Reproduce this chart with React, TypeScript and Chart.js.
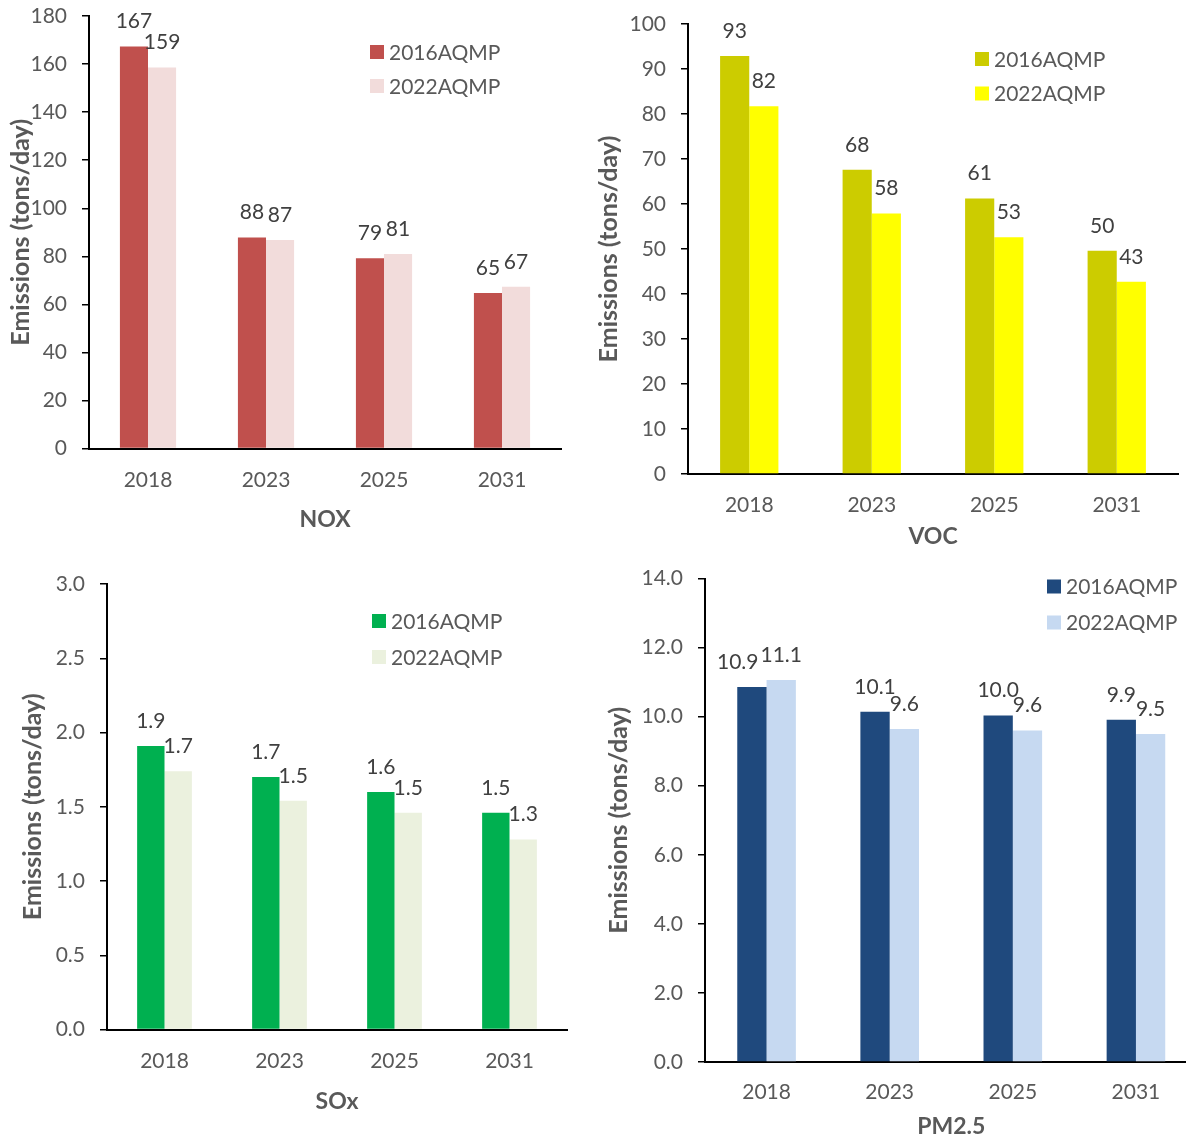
import React, { useEffect, useRef } from "react";
import { Chart, registerables } from "chart.js";

Chart.register(...registerables);

const FONT = "Lato, 'Noto Sans', sans-serif";

const categories = ["2018", "2023", "2025", "2031"];
const seriesNames = ["2016AQMP", "2022AQMP"];

const nox2016 = [167.3, 87.8, 79.2, 64.7];
const nox2022 = [158.6, 86.8, 81.0, 67.3];
const voc2016 = [92.9, 67.6, 61.2, 49.6];
const voc2022 = [81.7, 57.9, 52.6, 42.7];
const sox2016 = [1.91, 1.7, 1.6, 1.46];
const sox2022 = [1.74, 1.54, 1.46, 1.28];
const pm2016 = [10.86, 10.14, 10.03, 9.91];
const pm2022 = [11.06, 9.64, 9.6, 9.5];

const noxAxis = { max: 180, step: 20, decimals: 0 };
const vocAxis = { max: 100, step: 10, decimals: 0 };
const soxAxis = { max: 3, step: 0.5, decimals: 1 };
const pmAxis = { max: 14, step: 2, decimals: 1 };

const yTitle = "Emissions (tons/day)";

type Panel = {
  title: string;
  a: number[];
  b: number[];
  colors: [string, string];
  axis: { max: number; step: number; decimals: number };
  labelDecimals: number;
  box: { left: number; top: number; width: number; height: number };
  padTop: number;
  padRight: number;
  yW: number;
  xH: number;
  xTickPad: number;
  yTitlePad: number;
  legend: { dx: number; dy: number; gap: number };
};

const panels: Panel[] = [
  {
    title: "NOX", a: nox2016, b: nox2022, colors: ["#C0504D", "#F2DCDB"], axis: noxAxis, labelDecimals: 0,
    box: { left: 0, top: 0, width: 575, height: 533 }, padTop: 16, padRight: 14, yW: 89, xH: 84.4, xTickPad: 18.8,
    yTitlePad: 6.0, legend: { dx: 281, dy: 36, gap: 34 },
  },
  {
    title: "VOC", a: voc2016, b: voc2022, colors: ["#CCCC00", "#FFFF00"], axis: vocAxis, labelDecimals: 0,
    box: { left: 590, top: 0, width: 596, height: 550 }, padTop: 24, padRight: 8, yW: 98, xH: 76, xTickPad: 18.8,
    yTitlePad: 4.0, legend: { dx: 287, dy: 35, gap: 34.5 },
  },
  {
    title: "SOx", a: sox2016, b: sox2022, colors: ["#00B050", "#EBF1DE"], axis: soxAxis, labelDecimals: 1,
    box: { left: 0, top: 560, width: 580, height: 555 }, padTop: 24, padRight: 13, yW: 107, xH: 85.4, xTickPad: 18.8,
    yTitlePad: 18.0, legend: { dx: 265, dy: 37, gap: 36 },
  },
  {
    title: "PM2.5", a: pm2016, b: pm2022, colors: ["#1F497D", "#C6D9F1"], axis: pmAxis, labelDecimals: 1,
    box: { left: 590, top: 560, width: 620, height: 580 }, padTop: 18.5, padRight: 12.5, yW: 115, xH: 78, xTickPad: 18,
    yTitlePad: 13.5, legend: { dx: 342, dy: 8, gap: 36 },
  },
];

const valueLabelPlugin = {
  id: "valueLabels",
  afterDatasetsDraw(chart: any, _args: any, opts: any) {
    const ctx = chart.ctx;
    const size = opts.size || 21;
    ctx.save();
    ctx.font = `${size}px ${FONT}`;
    ctx.fillStyle = opts.color || "#404040";
    ctx.textAlign = "center";
    ctx.textBaseline = "middle";
    const n = chart.data.labels.length;
    for (let i = 0; i < n; i++) {
      const items = chart.data.datasets.map((ds: any, di: number) => {
        const el = chart.getDatasetMeta(di).data[i];
        const text = Number(ds.data[i]).toFixed(opts.decimals || 0);
        const w = ctx.measureText(text).width;
        return { x: el.x, y: el.y - (opts.offset || 25), w, text };
      });
      for (let k = items.length - 2; k >= 0; k--) {
        const p = items[k];
        const q = items[k + 1];
        if (Math.abs(p.y - q.y) < 10) {
          const overlap = p.x + p.w / 2 - (q.x - q.w / 2) + 2;
          if (overlap > 0) p.x -= overlap;
        }
      }
      items.forEach((it: any) => ctx.fillText(it.text, it.x, it.y));
    }
    ctx.restore();
  },
};

const boxLegendPlugin = {
  id: "boxLegend",
  afterDraw(chart: any, _args: any, opts: any) {
    const { ctx, chartArea } = chart;
    ctx.save();
    ctx.font = `21px ${FONT}`;
    ctx.textBaseline = "middle";
    ctx.textAlign = "left";
    chart.data.datasets.forEach((ds: any, i: number) => {
      const x = chartArea.left + opts.dx;
      const y = chartArea.top + opts.dy + i * opts.gap;
      ctx.fillStyle = ds.backgroundColor;
      ctx.fillRect(x, y - 7, 14, 14);
      ctx.fillStyle = "#595959";
      ctx.fillText(ds.label, x + 19, y + 1);
    });
    ctx.restore();
  },
};

function makeChart(canvas: HTMLCanvasElement, p: Panel) {
  return new Chart(canvas, {
    type: "bar",
    data: {
      labels: categories,
      datasets: [
        { label: seriesNames[0], data: p.a, backgroundColor: p.colors[0], borderWidth: 0, categoryPercentage: 0.476, barPercentage: 1 },
        { label: seriesNames[1], data: p.b, backgroundColor: p.colors[1], borderWidth: 0, categoryPercentage: 0.476, barPercentage: 1 },
      ],
    },
    plugins: [valueLabelPlugin, boxLegendPlugin],
    options: {
      responsive: false,
      animation: false,
      layout: { padding: { top: p.padTop, right: p.padRight, left: 0, bottom: 0 } },
      plugins: {
        legend: { display: false },
        tooltip: { enabled: false },
        valueLabels: { decimals: p.labelDecimals, size: 21, color: "#404040", offset: 25 },
        boxLegend: p.legend,
      } as any,
      scales: {
        x: {
          offset: true,
          grid: { display: false, drawTicks: false },
          border: { display: true, color: "#000000", width: 2 },
          ticks: { color: "#595959", font: { family: FONT, size: 21 }, padding: p.xTickPad, maxRotation: 0 },
          title: { display: true, text: p.title, color: "#595959", font: { family: FONT, size: 23, weight: "bold" }, padding: 0 },
          afterFit: (s: any) => { s.height = p.xH; },
        },
        y: {
          min: 0,
          max: p.axis.max,
          ticks: {
            stepSize: p.axis.step,
            color: "#595959",
            font: { family: FONT, size: 21 },
            padding: 15,
            callback: (v: any) => Number(v).toFixed(p.axis.decimals),
          },
          grid: { display: true, drawOnChartArea: false, drawTicks: true, tickLength: 7, color: "#000000", lineWidth: 1.5 },
          border: { display: true, color: "#000000", width: 2 },
          title: { display: true, text: yTitle, color: "#595959", font: { family: FONT, size: 25, weight: "bold" }, padding: { top: p.yTitlePad, bottom: 0 } },
          afterFit: (s: any) => {
            s.width = p.yW;
            s.paddingTop = 0;
            s.paddingBottom = 0;
          },
        },
      },
    } as any,
  });
}

export default function App() {
  const refs = useRef<(HTMLCanvasElement | null)[]>([]);
  useEffect(() => {
    let charts: Chart[] = [];
    let cancelled = false;
    const build = () => {
      if (cancelled) return;
      charts = panels.map((p, i) => makeChart(refs.current[i] as HTMLCanvasElement, p));
    };
    const fontsApi = (document as any).fonts;
    if (fontsApi && fontsApi.load) {
      Promise.all([fontsApi.load(`21px Lato`), fontsApi.load(`bold 23px Lato`)]).then(build, build);
    } else build();
    return () => {
      cancelled = true;
      charts.forEach((c) => c.destroy());
    };
  }, []);
  return (
    <div style={{ position: "absolute", left: 0, top: 0, width: 1186, height: 1141, overflow: "hidden", background: "#ffffff" }}>
      {panels.map((p, i) => (
        <canvas
          key={p.title}
          ref={(el) => { refs.current[i] = el; }}
          width={p.box.width}
          height={p.box.height}
          style={{ position: "absolute", left: p.box.left, top: p.box.top, width: p.box.width, height: p.box.height }}
        />
      ))}
    </div>
  );
}
